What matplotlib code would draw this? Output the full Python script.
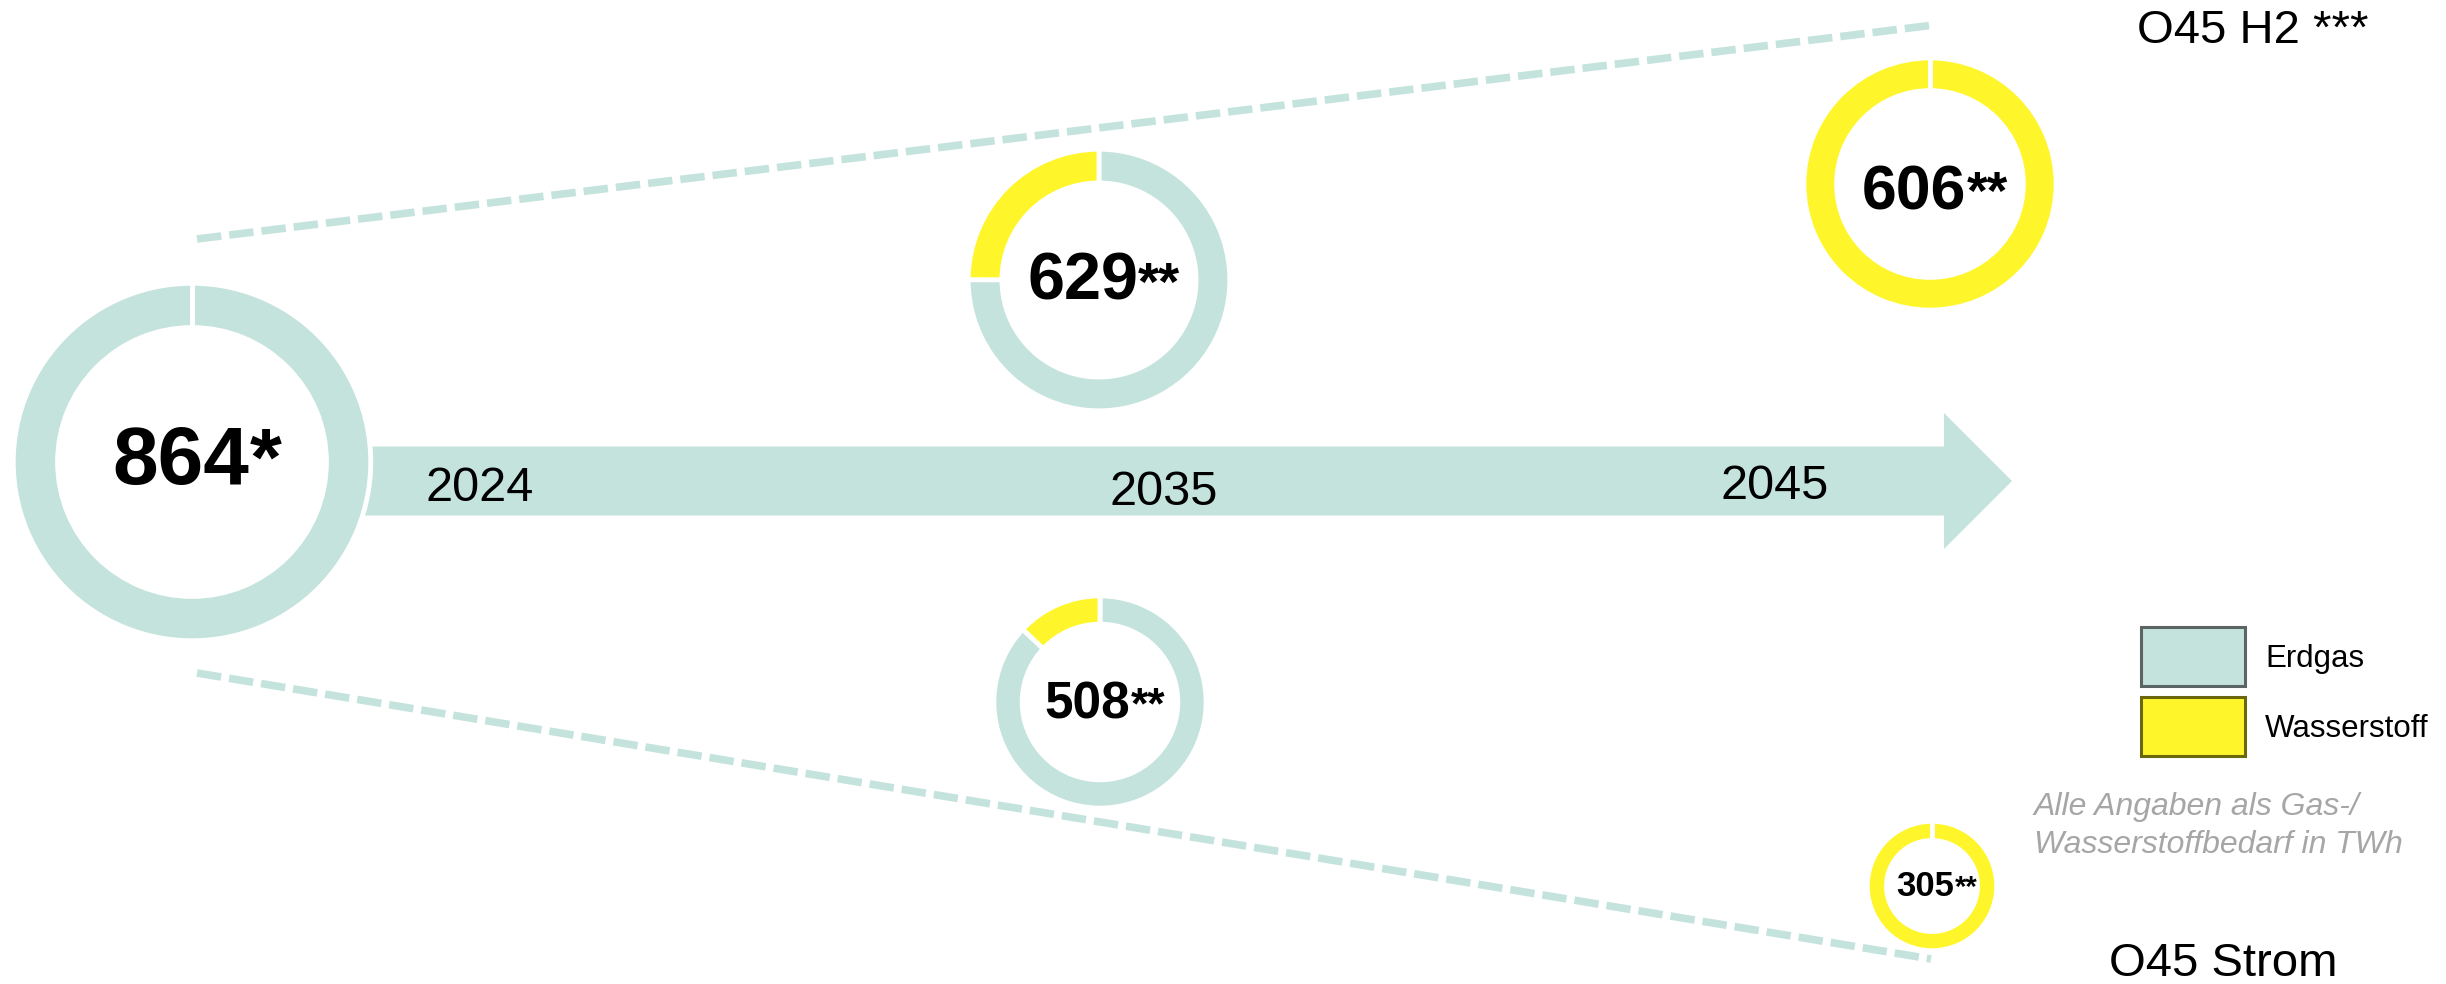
import matplotlib
matplotlib.use('Agg')
import matplotlib.pyplot as plt
from matplotlib.patches import FancyArrow, Rectangle

plt.rcParams['font.family'] = ['Liberation Sans', 'DejaVu Sans']

#region Daten (Gas-/Wasserstoffbedarf in TWh)
erdgas = [864, 472, 442, 0, 0]
wasserstoff = [0, 157, 66, 606, 305]
marks = ['*', '**', '**', '**', '**']
years = ['2024', '2035', '2045']
scenarios = ['O45 H2 ***', 'O45 Strom']
legend_labels = ['Erdgas', 'Wasserstoff']
note_lines = ['Alle Angaben als Gas-/', 'Wasserstoffbedarf in TWh']
#endregion

#region Layout (Pixel von oben)
W, H = 2446, 984
teal = '#c4e3dc'
yellow = '#fff52b'
centers = [(192, 462), (1099, 280), (1100, 702), (1930, 184), (1932, 886)]
num_sizes = [59, 48, 37, 45, 25]
star_sizes = [59, 39, 32, 38, 21]
text_dy = [-7, -4, -2, 3, -2]
year_pos = [(480, 484), (1164, 488), (1775, 482)]
#endregion

def Y(y):
    return H - y

fig = plt.figure(figsize=(W / 100, H / 100), dpi=100)
ax = fig.add_axes([0, 0, 1, 1])

# gestrichelte Trichterlinien
for (x0, y0), (x1, y1) in [((197, 239), (1934, 25)), ((197, 673), (1931, 959))]:
    ax.plot([x0, x1], [Y(y0), Y(y1)], color=teal, lw=5.5, dashes=(3.2, 1.05),
            solid_capstyle='butt')

# Zeitpfeil
ax.add_patch(FancyArrow(330, Y(481), 2012 - 330, 0, width=69, head_width=136,
                        head_length=68, length_includes_head=True,
                        color=teal, lw=0))

# Donuts
for i, (e, w) in enumerate(zip(erdgas, wasserstoff)):
    cx, cy = centers[i]
    total = e + w
    r = 0.204 * total + 2.5
    ring = 0.22 * r + 5
    vals = [v for v in (e, w) if v > 0]
    cols = [c for v, c in zip((e, w), (teal, yellow)) if v > 0]
    ax.pie(vals, colors=cols, startangle=90, counterclock=False, radius=r,
           center=(cx, Y(cy)),
           wedgeprops=dict(width=ring, edgecolor='white', linewidth=3.5))
    if len(vals) == 1:
        # weisse Fuge oben wie bei den geteilten Ringen
        ax.plot([cx, cx], [Y(cy) + r - ring - 2, Y(cy) + r + 2], color='white',
                lw=3.5, solid_capstyle='butt')

ax.set_xlim(0, W)
ax.set_ylim(0, H)
ax.set_aspect('equal')
ax.axis('off')

# Beschriftung der Donuts
renderer = fig.canvas.get_renderer()
for i, (e, w) in enumerate(zip(erdgas, wasserstoff)):
    cx, cy = centers[i]
    s = num_sizes[i]
    base = Y(cy + text_dy[i] + 0.358 * s * 100 / 72)
    t1 = ax.text(cx, base, f'{e + w}', fontsize=s, fontweight='bold',
                 ha='right', va='baseline')
    t2 = ax.text(cx, base, marks[i], fontsize=star_sizes[i], fontweight='bold',
                 ha='left', va='baseline')
    w1 = t1.get_window_extent(renderer).width
    w2 = t2.get_window_extent(renderer).width
    xs = cx + 5 - (w1 + w2) / 2 + w1
    t1.set_x(xs)
    t2.set_x(xs)

# Jahre
for yr, (x, y) in zip(years, year_pos):
    ax.text(x, Y(y + 0.358 * 35 * 100 / 72), yr, fontsize=35, ha='center', va='baseline')

# Szenarien
ax.text(2137, Y(43), scenarios[0], fontsize=34, ha='left', va='baseline')
ax.text(2109, Y(976), scenarios[1], fontsize=34, ha='left', va='baseline')

# Hinweis
for line, yb in zip(note_lines, [815, 853]):
    ax.text(2034, Y(yb), line, fontsize=23, style='italic', color='#a6a6a6',
            ha='left', va='baseline')

# Legende
box_top = [627, 697]
edges = ['#5b6664', '#6b680c']
for lab, top, fc, ec in zip(legend_labels, box_top, [teal, yellow], edges):
    ax.add_patch(Rectangle((2141, Y(top + 59)), 104, 59, facecolor=fc,
                           edgecolor=ec, lw=2.2))
    ax.text(2265, Y(top + 40), lab, fontsize=22.5, ha='left', va='baseline')

fig.savefig('out.png', dpi=100)
